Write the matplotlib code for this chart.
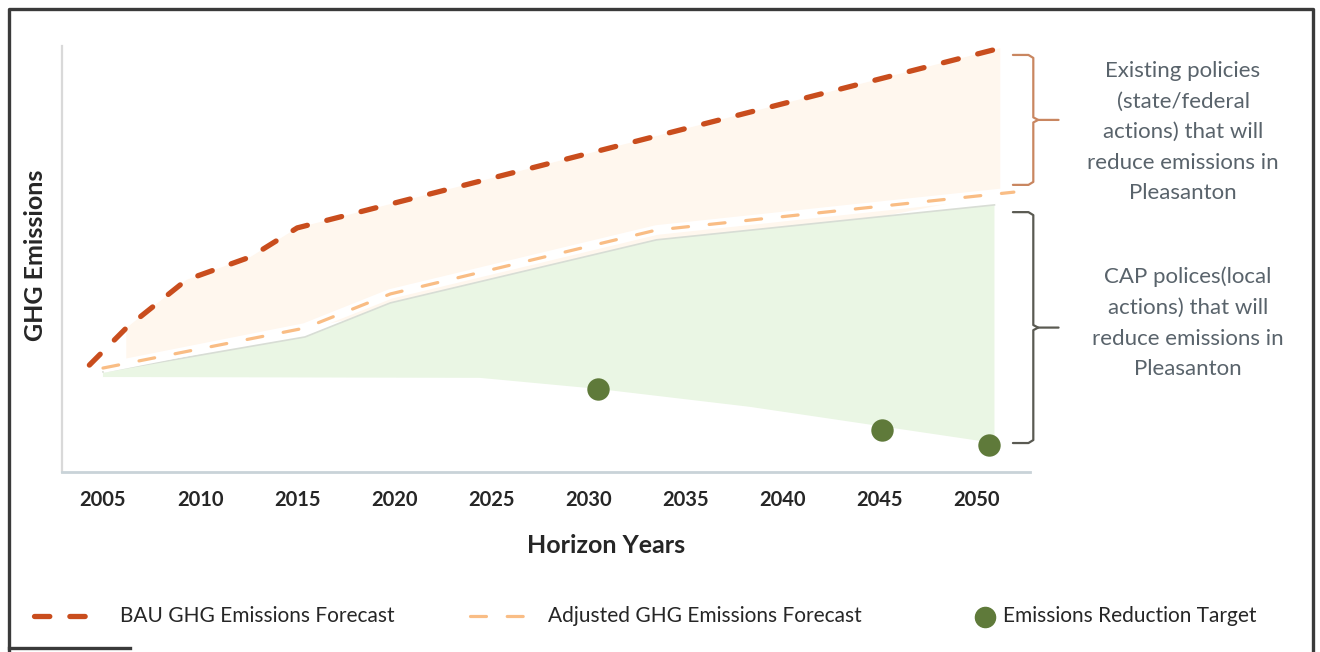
import numpy as np
import matplotlib
matplotlib.use("Agg")
import matplotlib.pyplot as plt
from matplotlib.lines import Line2D

# ---- data (emission index, arbitrary units) ----
bau_years = [2004.3, 2006.2, 2009.3, 2012.6, 2015.0, 2051.2]
bau_vals = [25.1, 33.8, 45.1, 50.5, 57.3, 99.5]

adj_years = [2005.0, 2015.4, 2019.8, 2033.5, 2051.9]
adj_vals = [24.4, 33.8, 41.8, 56.8, 65.7]

cap_top_years = [2005.0, 2015.4, 2019.8, 2033.5, 2050.9]
cap_top_vals = [23.5, 31.7, 39.7, 54.5, 62.7]
cap_bot_years = [2005.0, 2024.4, 2030.5, 2038.3, 2050.9]
cap_bot_vals = [22.3, 22.1, 19.5, 15.3, 6.8]

target_years = [2030.5, 2045.1, 2050.6]
target_vals = [19.5, 9.9, 6.3]

tick_years = [2005, 2010, 2015, 2020, 2025, 2030, 2035, 2040, 2045, 2050]
tick_labels = [str(y) for y in tick_years]

# ---- colours ----
C_BAU = "#C94D1D"
C_ADJ = "#F9BD85"
C_PEACH = "#FFF7EE"
C_GREEN = "#EAF6E4"
C_DOT = "#5F7A3A"
C_TEXT = "#59636B"
C_DARK = "#262626"

W, H = 1320, 652
plt.rcParams["font.family"] = ["Lato", "DejaVu Sans"]
fig = plt.figure(figsize=(W / 100, H / 100), dpi=100)


def fx(px):
    return px / W


def fy(py):
    return 1 - py / H


AX_L, AX_R, AX_T, AX_B = 62, 1030, 46, 472
ax = fig.add_axes([fx(AX_L), fy(AX_B), fx(AX_R) - fx(AX_L), fy(AX_T) - fy(AX_B)])
ax.set_xlim(2002.89, 2052.73)
ax.set_ylim(0, 100)

# existing-policy wedge between BAU and adjusted forecasts
wx = np.array(bau_years[1:])
wedge_top = np.array(bau_vals[1:])
wedge_bot = np.interp(wx, adj_years, adj_vals)
ax.fill(np.concatenate([wx, wx[::-1]]),
        np.concatenate([wedge_top, wedge_bot[::-1]]),
        color=C_PEACH, lw=0, zorder=1)

# local CAP policy wedge
ax.fill(np.concatenate([cap_top_years, cap_bot_years[::-1]]),
        np.concatenate([cap_top_vals, cap_bot_vals[::-1]]),
        color=C_GREEN, lw=0, zorder=1)
ax.plot(cap_top_years, cap_top_vals, color="#d8ddd5", lw=1.2, zorder=2)

# forecasts
ax.plot(adj_years, adj_vals, color="white", lw=7, solid_capstyle="butt", zorder=3)
ax.plot(adj_years, adj_vals, color=C_ADJ, lw=2.3, dashes=(5.0, 6.5),
        dash_capstyle="round", zorder=4)
ax.plot(bau_years, bau_vals, color=C_BAU, lw=3.8, dashes=(2.9, 3.8),
        dash_capstyle="round", zorder=5)

# targets
ax.scatter(target_years, target_vals, s=260, color=C_DOT, zorder=6, lw=0)

# axes styling
for s in ["top", "right"]:
    ax.spines[s].set_visible(False)
ax.spines["left"].set_color("#d9d9d9")
ax.spines["left"].set_linewidth(1.6)
ax.spines["bottom"].set_color("#c9d3d8")
ax.spines["bottom"].set_linewidth(2.0)
ax.set_yticks([])
ax.set_xticks(tick_years)
ax.set_xticklabels(tick_labels, fontsize=14.5, fontweight="bold", color=C_DARK)
ax.tick_params(axis="x", length=0, pad=13)
ax.set_xlabel("Horizon Years", fontsize=18, fontweight="bold", color=C_DARK)
ax.set_ylabel("GHG Emissions", fontsize=18, fontweight="bold", color=C_DARK)


def ax_frac(px, py):
    return ((px - AX_L) / (AX_R - AX_L), (AX_B - py) / (AX_B - AX_T))


ax.xaxis.set_label_coords(*ax_frac(606, 534))
ax.yaxis.set_label_coords(*ax_frac(47, 255))


# braces spanning each policy wedge
def brace(y0, y1, color):
    xs, xe, xt = 2051.85, 2052.9, 2054.2
    ym = (y0 + y1) / 2
    kw = dict(color=color, lw=1.6, clip_on=False, zorder=7,
              solid_capstyle="round", solid_joinstyle="round")
    ax.plot([xs, xe - 0.25, xe, xe, xe + 0.25, xt],
            [y0, y0, y0 - 0.7, ym + 0.6, ym, ym], **kw)
    ax.plot([xs, xe - 0.25, xe, xe, xe + 0.25],
            [y1, y1, y1 + 0.7, ym - 0.6, ym], **kw)


brace(bau_vals[-1] - 1.6, bau_vals[-1] - 32.1, "#C98660")
brace(cap_top_vals[-1] - 1.7, cap_bot_vals[-1], "#5a5a52")

fig.text(fx(1183), fy(132),
         "Existing policies\n(state/federal\nactions) that will\nreduce emissions in\nPleasanton",
         ha="center", va="center", fontsize=16, color=C_TEXT, linespacing=1.66)
fig.text(fx(1188), fy(323),
         "CAP polices(local\nactions) that will\nreduce emissions in\nPleasanton",
         ha="center", va="center", fontsize=16, color=C_TEXT, linespacing=1.66)

# legend row
ly = fy(616)
fig.add_artist(Line2D([fx(34), fx(95)], [ly, ly], color=C_BAU, lw=3.8,
                      dashes=(2.9, 3.8), dash_capstyle="round"))
fig.text(fx(120), ly, "BAU GHG Emissions Forecast", fontsize=15, color="#262626",
         va="center", ha="left")
fig.add_artist(Line2D([fx(470), fx(530)], [ly, ly], color=C_ADJ, lw=2.3,
                      dashes=(5.0, 6.5), dash_capstyle="round"))
fig.text(fx(548), ly, "Adjusted GHG Emissions Forecast", fontsize=15, color="#262626",
         va="center", ha="left")
fig.add_artist(Line2D([fx(985)], [fy(617)], marker="o", markersize=14.5,
                      color=C_DOT, lw=0))
fig.text(fx(1003), ly, "Emissions Reduction Target", fontsize=15, color="#262626",
         va="center", ha="left")

# outer frame
fk = dict(color="#3a3a3a", lw=2.4)
fig.add_artist(Line2D([fx(9), fx(9), fx(1313), fx(1313)],
                      [fy(651), fy(9), fy(9), fy(651)], **fk))
fig.add_artist(Line2D([fx(9), fx(130)], [fy(648), fy(648)], **fk))

fig.savefig("out.png", dpi=100)
